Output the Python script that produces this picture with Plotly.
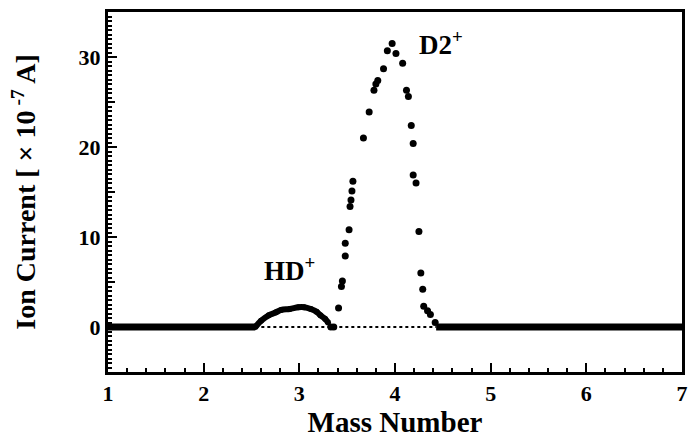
import plotly.graph_objects as go

# Dense baseline segments (y = 0)
base_left_x = [1.0, 2.54]
base_left_y = [0.0, 0.0]
base_right_x = [4.43, 7.0]
base_right_y = [0.0, 0.0]

# Thin dotted reference baseline under the peaks
ref_x = [2.54, 4.43]
ref_y = [0.0, 0.0]

# HD+ bump (dense points)
hd_x = [2.54, 2.60, 2.68, 2.75, 2.81, 2.90, 2.99, 3.05, 3.12, 3.18, 3.22, 3.27, 3.30]
hd_y = [0.0, 0.7, 1.3, 1.6, 1.9, 2.0, 2.2, 2.2, 2.0, 1.7, 1.3, 0.9, 0.5]

# D2+ peak points
d2_x = [3.33, 3.36, 3.41, 3.44, 3.45, 3.48, 3.48, 3.52, 3.53, 3.54, 3.55, 3.56, 3.67, 3.73, 3.78,
        3.80, 3.82, 3.88, 3.92, 3.97, 4.01, 4.08, 4.12, 4.14, 4.17, 4.19, 4.19, 4.22, 4.25,
        4.27, 4.29, 4.30, 4.34, 4.37, 4.42]
d2_y = [0.0, 0.0, 2.1, 4.5, 5.1, 7.9, 9.3, 10.8, 13.4, 14.1, 15.1, 16.2, 21.0, 23.9, 26.3,
        27.0, 27.4, 28.7, 30.7, 31.5, 30.4, 29.3, 26.3, 25.6, 22.4, 20.4, 16.9, 16.0, 10.6,
        6.0, 4.2, 2.3, 1.8, 1.4, 0.5]

x_ticks = [1, 2, 3, 4, 5, 6, 7]
y_ticks = [0, 10, 20, 30]
y_mid_ticks = [-5, 5, 15, 25, 35]

FONT = "Liberation Serif"

fig = go.Figure()
fig.add_trace(go.Scatter(x=ref_x, y=ref_y, mode="lines",
                         line=dict(color="black", width=2, dash="dot"), showlegend=False))
fig.add_trace(go.Scatter(x=base_left_x, y=base_left_y, mode="lines",
                         line=dict(color="black", width=7), showlegend=False))
fig.add_trace(go.Scatter(x=base_right_x, y=base_right_y, mode="lines",
                         line=dict(color="black", width=7), showlegend=False))
fig.add_trace(go.Scatter(x=hd_x, y=hd_y, mode="lines+markers",
                         line=dict(color="black", width=6, shape="spline"),
                         marker=dict(color="black", size=6), showlegend=False))
fig.add_trace(go.Scatter(x=d2_x, y=d2_y, mode="markers",
                         marker=dict(color="black", size=7), showlegend=False))
# invisible trace on overlay axis so its (medium) ticks render
fig.add_trace(go.Scatter(x=[1], y=[0], mode="markers", yaxis="y2",
                         marker=dict(size=0.1, opacity=0), showlegend=False, hoverinfo="skip"))

fig.add_annotation(x=2.9, y=6.4, text="<b>HD<sup>+</sup></b>", showarrow=False,
                   font=dict(family=FONT, size=27, color="black"))
fig.add_annotation(x=4.48, y=31.6, text="<b>D2<sup>+</sup></b>", showarrow=False,
                   font=dict(family=FONT, size=27, color="black"))

fig.update_layout(
    width=691, height=440,
    margin=dict(l=108, r=3, t=12, b=68),
    paper_bgcolor="white", plot_bgcolor="white",
    font=dict(family=FONT, color="black"),
    xaxis=dict(range=[1, 7], tickvals=x_ticks, ticks="inside", ticklen=9, tickwidth=2,
               tickcolor="black", showline=True, linecolor="black", linewidth=3,
               mirror=True, showgrid=False, zeroline=False,
               minor=dict(dtick=0.2, ticks="inside", ticklen=4, tickwidth=2, tickcolor="black",
                          showgrid=False),
               tickfont=dict(family=FONT, size=22, color="black", weight="bold"),
               title=dict(text="<b>Mass Number</b>", font=dict(family=FONT, size=29, color="black"),
                          standoff=0)),
    yaxis=dict(range=[-5, 35], tickvals=y_ticks, ticks="inside",
               ticklen=9, tickwidth=2, tickcolor="black", showline=True, linecolor="black",
               linewidth=3, mirror=True, showgrid=False, zeroline=False,
               minor=dict(dtick=0.5, ticks="inside", ticklen=4, tickwidth=2, tickcolor="black",
                          showgrid=False),
               tickfont=dict(family=FONT, size=22, color="black", weight="bold"),
               title=dict(text="<b>Ion Current [ × 10<sup> -7</sup> A]</b>",
                          font=dict(family=FONT, size=28, color="black"), standoff=35)),
    yaxis2=dict(range=[-5, 35], overlaying="y", side="left", tickvals=y_mid_ticks,
                ticks="inside", ticklen=7, tickwidth=2, tickcolor="black",
                showticklabels=False, showline=False, showgrid=False, zeroline=False),
)

fig.write_html("out.html")
